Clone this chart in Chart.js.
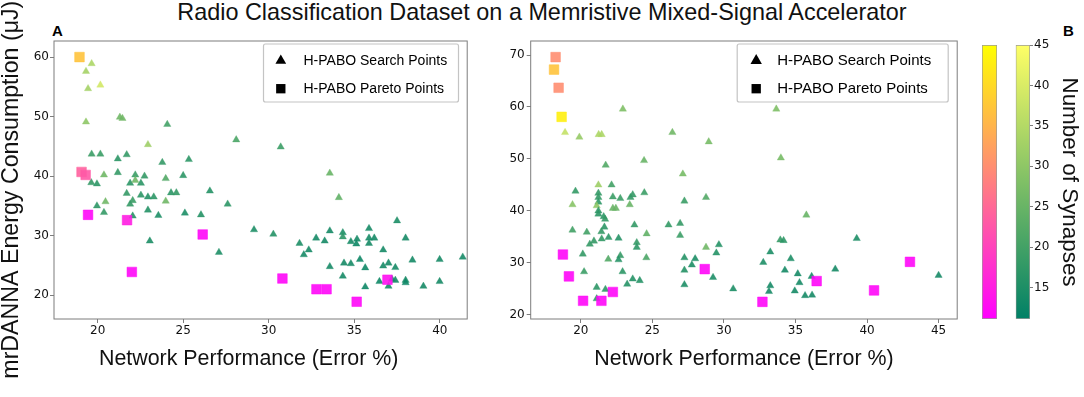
<!DOCTYPE html>
<html>
<head>
<meta charset="utf-8">
<script src="https://cdn.jsdelivr.net/npm/chart.js@4.4.0/dist/chart.umd.min.js"></script>
<style>
  html, body { margin: 0; padding: 0; background: #fff; }
  body { width: 1084px; height: 397px; position: relative; overflow: hidden; font-family: "Liberation Sans", Arial, sans-serif; }
  .box { position: absolute; top: 0; height: 397px; }
  #suptitle { position: absolute; left: 0; top: 1px; width: 1084px; text-align: center; font-size: 23.4px; line-height: 23px; color: #111; }
  .tag { position: absolute; font-weight: bold; font-size: 15px; line-height: 15px; color: #000; }
</style>
</head>
<body>
<div id="suptitle">Radio Classification Dataset on a Memristive Mixed-Signal Accelerator</div>
<div class="tag" style="left:52px; top:23px;">A</div>
<div class="tag" style="left:1063px; top:23px;">B</div>
<div class="box" style="left:0; width:475px;"><canvas id="panelA"></canvas></div>
<div class="box" style="left:490px; width:475px;"><canvas id="panelB"></canvas></div>
<div class="box" style="left:982px; width:15px;"><canvas id="barPareto"></canvas></div>
<div class="box" style="left:1010px; width:74px;"><canvas id="barSearch"></canvas></div>
<script>
// panel A: error %, energy (uJ), number of synapses
const leftSearchErr = [19.65,19.32,19.44,20.16,19.32,21.3,21.45,24.07,28.1,30.7,22.94,19.65,20.16,21.18,21.7,23.78,25.33,20.37,21.18,22.2,
  22.74,23.98,25.0,19.63,19.96,21.9,22.53,22.2,26.56,21.7,22.53,22.94,23.28,24.29,24.6,22.05,21.9,23.98,27.6,20.46,
  19.96,20.37,22.94,25.1,26.04,22.05,23.55,29.14,30.27,23.05,31.8,32.05,27.09,33.57,34.1,37.5,35.86,33.57,34.33,34.33,
  32.77,33.27,34.8,35.16,35.12,35.86,35.86,36.17,38.0,32.34,36.69,35.33,34.4,34.8,38.4,39.99,41.34,33.57,35.64,36.69,
  37.0,37.4,34.33,36.47,37.2,37.4,38.0,38.0,37.0,35.64,39.04,39.99];
const leftSearchEnergy = [58.9,57.6,54.7,55.3,49.1,49.9,49.7,48.7,46.1,44.9,45.3,43.7,43.7,42.9,43.6,42.3,42.8,40.2,40.6,40.2,
  40.0,39.6,40.1,38.9,38.7,38.8,38.8,39.3,37.5,37.1,36.8,36.5,36.5,37.2,37.2,35.9,35.3,35.8,35.3,35.7,
  35.0,33.9,34.3,33.8,33.5,33.3,33.4,31.0,30.25,29.1,28.7,26.8,27.2,40.5,36.4,32.5,31.2,30.8,30.5,29.8,
  29.6,29.1,29.0,29.4,28.6,29.6,28.7,29.6,29.6,27.6,27.6,26.0,25.4,25.3,25.9,26.0,26.4,24.8,24.6,24.9,
  25.4,24.65,23.2,22.3,22.7,22.5,22.5,22.1,21.5,21.4,21.5,22.3];
const leftSearchSyn = [34,33,33,39,30,26,26,20,21,19,32,19,19,17,18,18,17,26,18,19,
  18,22,17,18,17,17,17,26,16,18,17,16,17,17,18,19,18,26,17,26,
  17,18,16,15,16,16,15,15,16,15,15,14,15,25,24,15,14,14,15,17,
  14,14,14,14,13,14,14,14,14,14,14,13,14,14,14,14,14,14,13,14,
  14,14,14,13,14,14,14,13,14,13,14,14];

const leftParetoErr = [18.94,19.06,19.3,19.44,21.72,26.14,22.0,30.8,32.79,33.38,35.14,36.94];
const leftParetoEnergy = [60.0,40.7,40.2,33.5,32.6,30.2,23.9,22.8,21.0,21.0,18.9,22.6];
const leftParetoSyn = [37,24,23,12,15,12,12,12,12,12,12,13];

// panel B
const rightSearchErr = [18.9,19.9,21.25,21.46,22.94,26.4,21.74,24.42,27.13,33.66,28.94,33.98,24.44,27.24,28.75,26.13,26.94,24.6,26.94,19.63,
  19.42,19.42,20.14,20.23,20.42,20.63,20.92,21.23,21.23,21.23,21.23,21.11,21.23,21.23,21.6,21.7,21.65,21.44,21.46,21.94,
  22.15,22.24,22.24,22.45,22.76,22.64,22.76,22.64,21.92,23.42,23.47,23.63,23.75,23.91,23.91,24.58,22.92,23.24,23.63,24.12,
  21.11,21.72,21.11,27.24,27.24,27.24,27.76,27.99,35.76,33.94,34.17,39.28,28.75,29.65,29.47,33.24,32.75,34.67,34.26,35.16,
  36.13,37.78,29.24,35.28,33.24,33.15,30.65,34.95,35.67,36.16,45.0];
const rightSearchEnergy = [55.1,54.2,54.7,54.7,59.6,55.1,48.8,49.7,47.1,59.6,53.3,50.2,43.5,41.9,42.6,37.3,37.6,35.6,35.3,43.8,
  41.2,36.3,31.7,28.3,35.9,33.6,34.2,45.0,43.4,42.6,41.7,41.0,40.0,39.4,38.9,38.4,36.9,36.0,34.6,34.9,
  45.0,42.7,40.5,40.5,42.4,34.75,31.4,30.6,30.7,41.2,42.6,43.1,37.3,33.9,33.0,31.0,28.3,25.9,26.9,26.6,
  25.3,24.9,23.1,31.0,28.6,25.8,29.6,30.8,39.2,34.4,34.3,34.7,33.0,33.5,31.9,32.1,30.1,30.8,28.6,27.9,
  27.4,28.8,27.2,26.2,25.6,24.5,25.0,24.6,23.7,23.8,27.6];
const rightSearchSyn = [37,31,34,34,28,26,22,25,27,28,27,27,19,19,22,18,18,24,19,18,
  29,20,18,19,20,18,18,32,18,18,17,30,17,17,17,18,17,18,18,17,
  20,19,25,25,19,16,18,16,22,25,18,18,18,18,17,21,17,16,16,16,
  17,17,17,16,16,15,15,15,25,18,17,15,26,16,16,15,15,15,14,14,
  14,14,15,14,14,14,15,14,14,14,14];

const rightParetoErr = [18.24,18.13,18.45,18.66,18.75,19.17,20.16,21.44,22.24,28.66,32.69,36.48,40.49,43.0];
const rightParetoEnergy = [69.6,67.2,63.7,58.1,31.6,27.4,22.7,22.7,24.4,28.8,22.5,26.5,24.7,30.2];
const rightParetoSyn = [30,37,30,43,12,12,12,12,12,12,12,12,12,12];

const leftXTicks = [20, 25, 30, 35, 40];
const leftYTicks = [20, 30, 40, 50, 60];
const rightXTicks = [20, 25, 30, 35, 40, 45];
const rightYTicks = [20, 30, 40, 50, 60, 70];
const synTicks = [15, 20, 25, 30, 35, 40, 45];
const synMin = 11.13, synMax = 45;

const TICK_FONT = { family: 'DejaVu Sans', size: 12 };
const LABEL_FAMILY = 'Liberation Sans';

function frac(s) {
  return Math.min(1, Math.max(0, (s - synMin) / (synMax - synMin)));
}
// matplotlib "summer" and "spring" colormaps
function summer(s, a) {
  const t = frac(s);
  return `rgba(${Math.round(255 * t)},${Math.round(255 * (0.5 + 0.5 * t))},102,${a})`;
}
function spring(s, a) {
  const t = frac(s);
  return `rgba(255,${Math.round(255 * t)},${Math.round(255 * (1 - t))},${a})`;
}
function toPoints(xs, ys) {
  return xs.map((x, i) => ({ x: x, y: ys[i] }));
}

const framePlugin = {
  id: 'frame',
  afterDatasetsDraw(chart) {
    const { ctx, chartArea: a } = chart;
    ctx.save();
    ctx.strokeStyle = '#7d7d7d';
    ctx.lineWidth = 1;
    ctx.strokeRect(a.left, a.top, a.right - a.left, a.bottom - a.top);
    ctx.restore();
  }
};

// legend box drawn inside the plot, upper right
const boxLegend = {
  id: 'boxLegend',
  afterDraw(chart, args, o) {
    const { ctx, chartArea: a } = chart;
    const x1 = a.right - o.right, x0 = x1 - o.width;
    const y0 = a.top + 3, h = 58;
    ctx.save();
    ctx.fillStyle = 'rgba(255,255,255,0.85)';
    ctx.strokeStyle = '#c4c4c4';
    ctx.lineWidth = 1.2;
    ctx.beginPath();
    ctx.roundRect(x0, y0, x1 - x0, h, 2);
    ctx.fill();
    ctx.stroke();
    ctx.font = o.fontSize + 'px "' + LABEL_FAMILY + '"';
    ctx.textBaseline = 'middle';
    o.items.forEach((it, i) => {
      const cy = y0 + 16.7 + i * 28;
      ctx.fillStyle = '#000';
      Chart.helpers.drawPoint(ctx, { pointStyle: it.style, radius: it.radius, borderWidth: 0, rotation: 0 }, x0 + o.markerX, cy);
      ctx.fillStyle = '#000';
      ctx.fillText(chart.data.datasets[it.dataset].label, x0 + 40, cy);
    });
    ctx.restore();
  }
};

function makePanel(id, p) {
  return new Chart(document.getElementById(id), {
    type: 'scatter',
    data: {
      datasets: [
        {
          label: 'H-PABO Pareto Points',
          data: toPoints(p.paretoErr, p.paretoEnergy),
          pointStyle: 'rect',
          pointRadius: 6.8,
          backgroundColor: p.paretoSyn.map(s => spring(s, 0.9)),
          borderColor: p.paretoSyn.map(s => spring(s, 0.5)),
          borderWidth: 1
        },
        {
          label: 'H-PABO Search Points',
          data: toPoints(p.searchErr, p.searchEnergy),
          pointStyle: 'triangle',
          pointRadius: 4.2,
          backgroundColor: p.searchSyn.map(s => summer(s, 0.9)),
          borderColor: p.searchSyn.map(s => summer(s, 0.4)),
          borderWidth: 0.8
        }
      ]
    },
    options: {
      responsive: true,
      maintainAspectRatio: false,
      animation: false,
      events: [],
      layout: { padding: { top: 41, right: p.padRight, left: 0, bottom: 0 } },
      plugins: {
        legend: { display: false },
        tooltip: { enabled: false },
        boxLegend: {
          right: p.legendRight,
          width: p.legendWidth,
          markerX: p.markerX,
          fontSize: p.legendFont,
          items: [{ dataset: 1, style: 'triangle', radius: p.legendTri }, { dataset: 0, style: 'rect', radius: 6.6 }]
        }
      },
      scales: {
        x: {
          type: 'linear',
          min: p.xMin, max: p.xMax,
          afterFit: s => { s.height = 78; },
          afterBuildTicks: s => { s.ticks = p.xTicks.map(v => ({ value: v })); },
          grid: { drawOnChartArea: false, drawTicks: true, tickLength: 4, color: '#7d7d7d' },
          border: { display: false },
          ticks: { font: TICK_FONT, color: '#111', padding: 1, maxRotation: 0 },
          title: {
            display: true,
            text: p.xTitle,
            color: '#111',
            font: { family: LABEL_FAMILY, size: 21.4, lineHeight: 1 },
            padding: { top: 0, bottom: 27 }
          }
        },
        y: {
          type: 'linear',
          min: p.yMin, max: p.yMax,
          afterFit: s => { s.width = p.yWidth; },
          afterBuildTicks: s => { s.ticks = p.yTicks.map(v => ({ value: v })); },
          grid: { drawOnChartArea: false, drawTicks: true, tickLength: 4, color: '#7d7d7d' },
          border: { display: false },
          ticks: { font: TICK_FONT, color: '#111', padding: p.yTickPad },
          title: {
            display: !!p.yTitle,
            text: p.yTitle || '',
            color: '#111',
            font: { family: LABEL_FAMILY, size: 23.2, lineHeight: 1 },
            padding: { top: 0, bottom: 0 }
          }
        }
      }
    },
    plugins: [framePlugin, boxLegend]
  });
}

makePanel('panelA', {
  searchErr: leftSearchErr, searchEnergy: leftSearchEnergy, searchSyn: leftSearchSyn,
  paretoErr: leftParetoErr, paretoEnergy: leftParetoEnergy, paretoSyn: leftParetoSyn,
  xMin: 17.45, xMax: 41.6, yMin: 16.0, yMax: 62.7,
  xTicks: leftXTicks, yTicks: leftYTicks,
  padRight: 4.3, yWidth: 54, yTickPad: 1,
  xTitle: 'Network Performance (Error %)    ',
  yTitle: 'mrDANNA Energy Consumption (μJ)   ',
  legendRight: 8.7, legendWidth: 195, markerX: 17.3, legendFont: 14, legendTri: 6.2
});

makePanel('panelB', {
  searchErr: rightSearchErr, searchEnergy: rightSearchEnergy, searchSyn: rightSearchSyn,
  paretoErr: rightParetoErr, paretoEnergy: rightParetoEnergy, paretoSyn: rightParetoSyn,
  xMin: 16.5, xMax: 46.3, yMin: 19.2, yMax: 72.7,
  xTicks: rightXTicks, yTicks: rightYTicks,
  padRight: 5, yWidth: 40.7, yTickPad: 2,
  xTitle: 'Network Performance (Error %)',
  yTitle: null,
  legendRight: 9, legendWidth: 211, markerX: 19, legendFont: 15, legendTri: 6.6
});

// colour bars: one floating bar spanning the synapse range, filled with the colormap
function colorBar(id, cmap, withAxis) {
  return new Chart(document.getElementById(id), {
    type: 'bar',
    data: {
      labels: ['synapses'],
      datasets: [{
        data: [[synMin, synMax]],
        backgroundColor: c => {
          const area = c.chart.chartArea;
          if (!area) return cmap(synMin, 1);
          const g = c.chart.ctx.createLinearGradient(0, area.bottom, 0, area.top);
          g.addColorStop(0, cmap(synMin, 1));
          g.addColorStop(1, cmap(synMax, 1));
          return g;
        },
        borderColor: '#9a9a9a',
        borderWidth: 1,
        borderSkipped: false,
        barPercentage: 1,
        categoryPercentage: 1
      }]
    },
    options: {
      responsive: true,
      maintainAspectRatio: false,
      animation: false,
      events: [],
      layout: { padding: { top: 45, bottom: 78, left: withAxis ? 5.7 : 0, right: 0 } },
      plugins: { legend: { display: false }, tooltip: { enabled: false } },
      scales: {
        x: { display: false },
        y: {
          display: withAxis,
          position: 'right',
          min: synMin, max: synMax,
          afterFit: s => { if (withAxis) s.width = 54; },
          afterBuildTicks: s => { s.ticks = synTicks.map(v => ({ value: v })); },
          grid: { drawOnChartArea: false, drawTicks: true, tickLength: 3, color: '#7d7d7d' },
          border: { display: false },
          ticks: { font: TICK_FONT, color: '#111', padding: 1 },
          title: {
            display: withAxis,
            text: 'Number of Synapses',
            color: '#111',
            font: { family: LABEL_FAMILY, size: 22.4, lineHeight: 1 },
            padding: { top: 3.5, bottom: 0 }
          }
        }
      }
    }
  });
}

colorBar('barPareto', spring, false);
colorBar('barSearch', summer, true);
</script>
</body>
</html>
